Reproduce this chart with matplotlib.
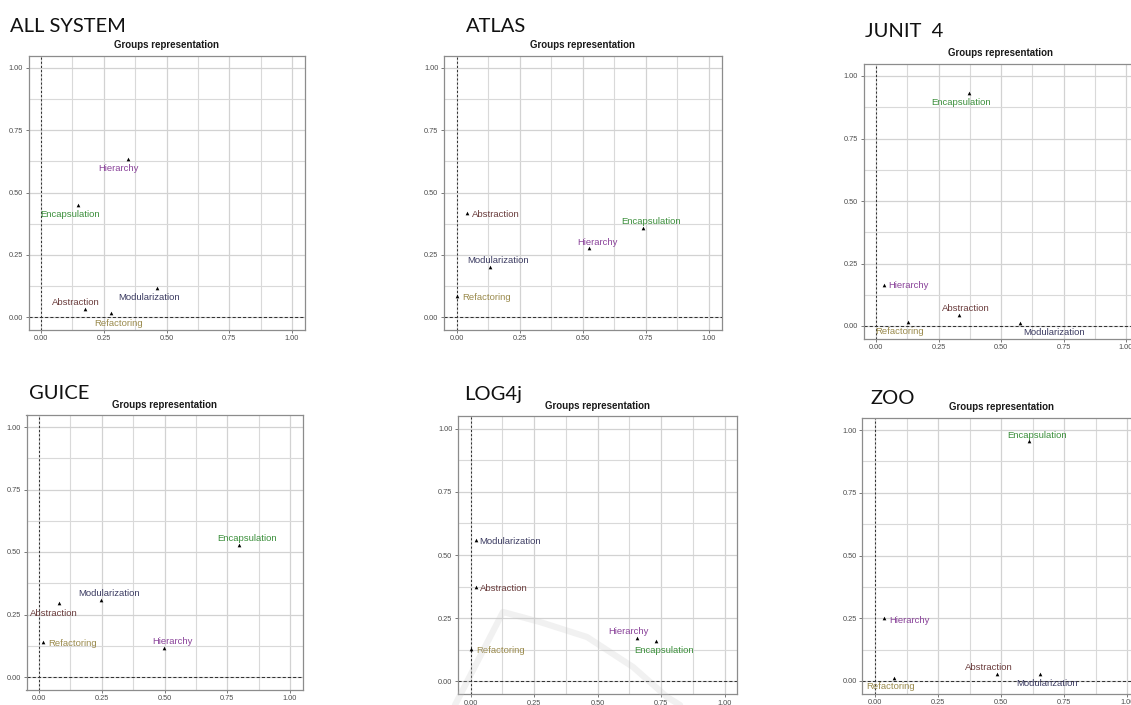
import matplotlib
matplotlib.use("Agg")
import matplotlib.pyplot as plt
from matplotlib.ticker import MultipleLocator

# ---------------- data ----------------
groups = ["Abstraction", "Encapsulation", "Hierarchy", "Modularization", "Refactoring"]

systems = ["ALL SYSTEM", "ATLAS", "JUNIT  4", "GUICE", "LOG4j", "ZOO"]

all_x = [0.176, 0.147, 0.345, 0.463, 0.277]
all_y = [0.033, 0.449, 0.636, 0.117, 0.016]
atlas_x = [0.042, 0.737, 0.526, 0.133, 0.003]
atlas_y = [0.417, 0.358, 0.276, 0.199, 0.085]
junit_x = [0.331, 0.372, 0.031, 0.575, 0.128]
junit_y = [0.043, 0.931, 0.166, 0.013, 0.016]
guice_x = [0.080, 0.795, 0.499, 0.246, 0.016]
guice_y = [0.296, 0.527, 0.115, 0.308, 0.139]
log4j_x = [0.021, 0.731, 0.655, 0.020, 0.003]
log4j_y = [0.374, 0.160, 0.171, 0.559, 0.130]
zoo_x = [0.485, 0.610, 0.037, 0.653, 0.075]
zoo_y = [0.028, 0.956, 0.252, 0.027, 0.013]

xs = [all_x, atlas_x, junit_x, guice_x, log4j_x, zoo_x]
ys = [all_y, atlas_y, junit_y, guice_y, log4j_y, zoo_y]

tick_vals = [0.0, 0.25, 0.5, 0.75, 1.0]
tick_labels = ["0.00", "0.25", "0.50", "0.75", "1.00"]
subtitle = "Groups representation"

# ---------------- styles / layout ----------------
group_colors = {
    "Abstraction": "#6a3c3c",
    "Encapsulation": "#3b8f3b",
    "Hierarchy": "#8a439a",
    "Modularization": "#3c3c62",
    "Refactoring": "#9a8a4c",
}

W, H = 1131, 705
# axes boxes in pixels: left, top, right, bottom
boxes = [
    (28.5, 55.5, 304.5, 329.5),
    (444.0, 55.5, 721.6, 329.5),
    (863.5, 63.5, 1138.5, 338.5),
    (26.5, 414.5, 302.6, 689.5),
    (458.0, 416.0, 737.4, 694.0),
    (862.4, 417.5, 1140.0, 693.5),
]
# big panel titles: x, baseline y (pixels)
title_pos = [(10, 32), (466, 32), (865, 37), (29, 399), (464, 400), (871, 404)]

# label offsets in pixels (dx right, dy down) per panel, per group
label_off = [
    [(-9, -6.7), (-8, 9.7), (-8.7, 9.7), (-8.3, 9.7), (8, 10)],
    [(28.7, 1.7), (8.3, -6.7), (8, -6), (8, -6.7), (28.7, 1.3)],
    [(7, -6.7), (-8.3, 9), (24.7, 1.3), (34, 9.3), (-8.3, 9.3)],
    [(-5.3, 10), (8, -7), (8, -6.3), (8, -6.7), (29, 1.3)],
    [(28, 1.7), (8, 10), (-8.7, -7), (34.7, 1.7), (29, 1.7)],
    [(-9, -6.7), (7.7, -6), (25, 2.7), (7.3, 9.7), (-3.3, 9.3)],
]

PX2PT = 72.0 / 100.0

fig = plt.figure(figsize=(W / 100, H / 100), dpi=100)
fig.patch.set_facecolor("white")

for i in range(6):
    l, t, r, b = boxes[i]
    ax = fig.add_axes([l / W, 1 - b / H, (r - l) / W, (b - t) / H])
    ax.set_xlim(-0.05, 1.05)
    ax.set_ylim(-0.05, 1.05)
    ax.set_facecolor("white")
    ax.xaxis.set_minor_locator(MultipleLocator(0.125))
    ax.yaxis.set_minor_locator(MultipleLocator(0.125))
    ax.set_xticks(tick_vals)
    ax.set_xticklabels(tick_labels)
    ax.set_yticks(tick_vals)
    ax.set_yticklabels(tick_labels)
    ax.grid(which="major", color="#d2d2d2", linewidth=0.9)
    ax.grid(which="minor", color="#d9d9d9", linewidth=0.8)
    ax.set_axisbelow(True)
    ax.tick_params(which="major", length=2, width=0.5, color="#444444",
                   labelsize=5.3, labelcolor="#4d4d4d", pad=2)
    ax.tick_params(which="minor", length=0)
    for sp in ax.spines.values():
        sp.set_color("#8c8c8c")
        sp.set_linewidth(0.9)
    for lab in ax.get_xticklabels() + ax.get_yticklabels():
        lab.set_fontfamily("Liberation Sans")

    ax.axhline(0, color="#333333", linestyle=(0, (3, 2)), linewidth=0.75, zorder=2)
    ax.axvline(0, color="#333333", linestyle=(0, (2, 2)), linewidth=0.75, zorder=2)

    ax.scatter(xs[i], ys[i], marker="^", s=7, color="black", zorder=3, linewidths=0)
    for j, g in enumerate(groups):
        dx, dy = label_off[i][j]
        ax.annotate(g, (xs[i][j], ys[i][j]), xytext=(dx * PX2PT, -dy * PX2PT),
                    textcoords="offset points", ha="center", va="center",
                    fontsize=6.8, color=group_colors[g], family="Liberation Sans",
                    annotation_clip=False, zorder=4)

    ax.annotate(subtitle, (0.5, 1.0), xycoords="axes fraction",
                xytext=(0, 10 * PX2PT), textcoords="offset points",
                ha="center", va="center", fontsize=7, fontweight="bold",
                color="#1a1a1a", family="Liberation Sans")

    tx, ty = title_pos[i]
    fig.text(tx / W, 1 - ty / H, systems[i], ha="left", va="baseline",
             fontsize=14.5, color="#111111", family="Lato")

# faint watermark arc over the LOG4j panel
wx = [455, 503, 540, 587, 633, 667, 680]
wy = [705, 612, 622, 637, 667, 697, 705]
fig.add_artist(plt.Line2D([v / W for v in wx], [1 - v / H for v in wy],
                          transform=fig.transFigure, color="#c8c8c8",
                          alpha=0.25, linewidth=4.5, solid_capstyle="round",
                          zorder=10))

fig.savefig("out.png", dpi=100, facecolor="white")
